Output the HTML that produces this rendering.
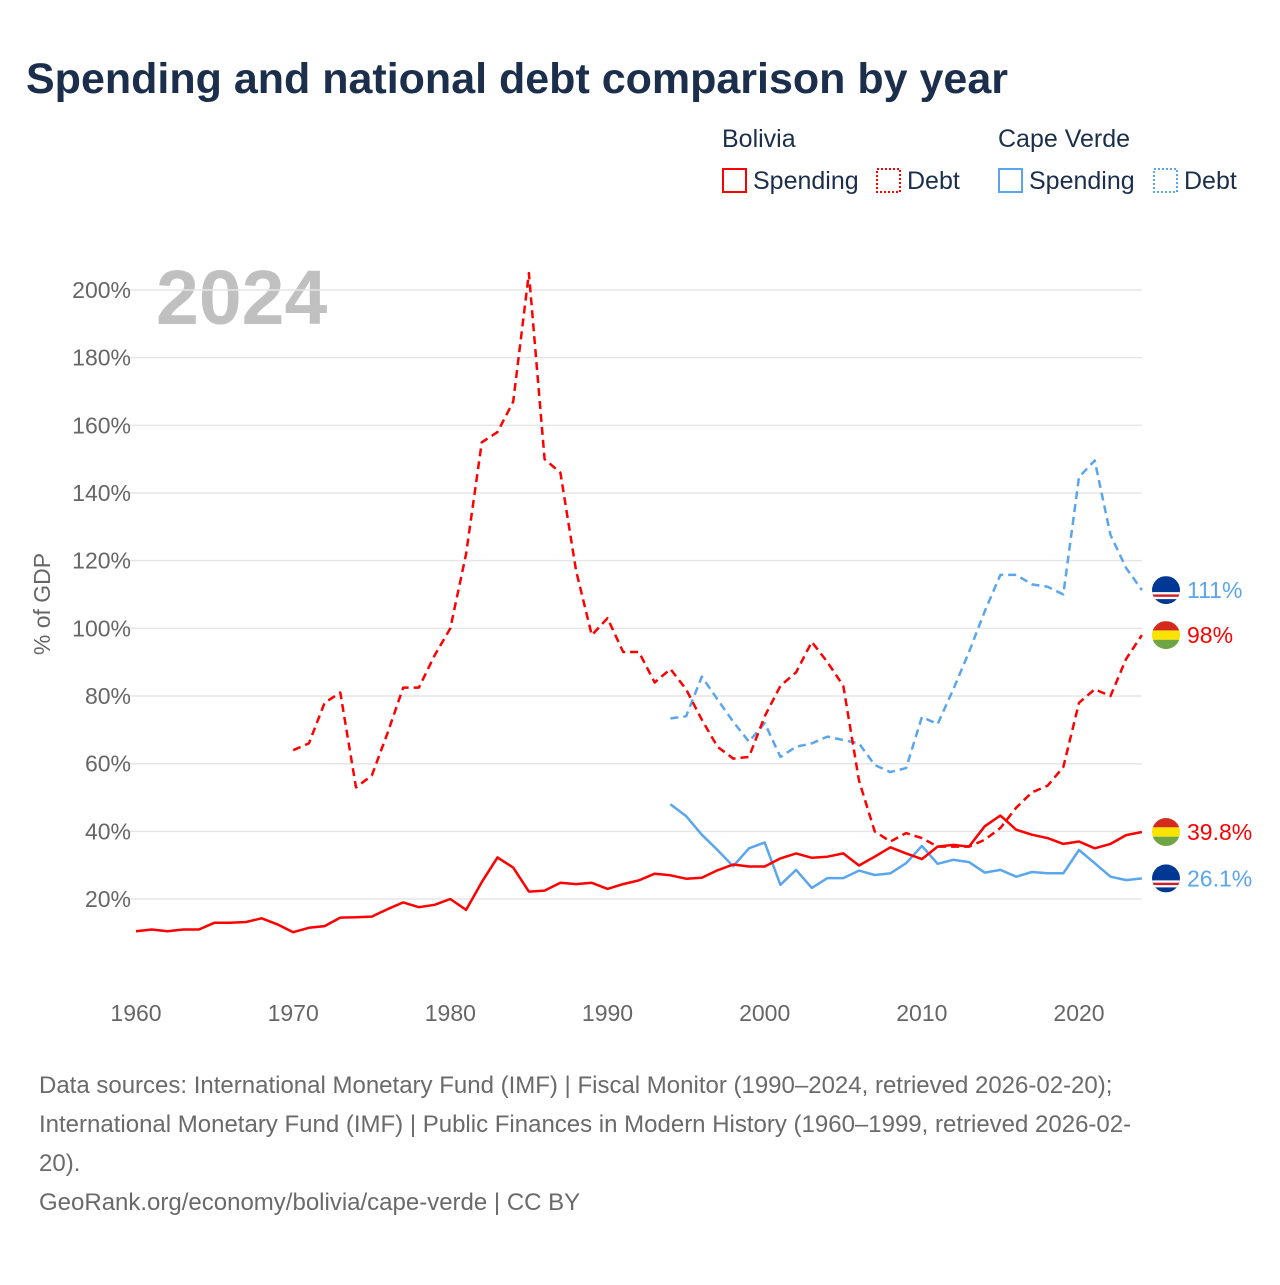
<!DOCTYPE html>
<html><head><meta charset="utf-8">
<style>
body{margin:0;background:#fff;width:1280px;height:1280px;overflow:hidden;font-family:"Liberation Sans",sans-serif;}
</style></head>
<body>
<svg id="chart" width="1280" height="1280" xmlns="http://www.w3.org/2000/svg" font-family="Liberation Sans, sans-serif">
<text x="26" y="93" font-size="43" font-weight="bold" fill="#1b2f4c">Spending and national debt comparison by year</text>
<g font-size="25" fill="#1b2f4c">
<text x="722" y="147">Bolivia</text>
<text x="998" y="147">Cape Verde</text>
<g><rect x="723" y="169" width="23" height="23" fill="none" stroke="#f00" stroke-width="2"/><text x="753" y="189">Spending</text></g>
<g><rect x="877" y="169" width="23" height="23" fill="none" stroke="#f00" stroke-width="2" stroke-dasharray="2,2"/><text x="907" y="189">Debt</text></g>
<g><rect x="999" y="169" width="23" height="23" fill="none" stroke="#5aa6ee" stroke-width="2"/><text x="1029" y="189">Spending</text></g>
<g><rect x="1154" y="169" width="23" height="23" fill="none" stroke="#5aa6ee" stroke-width="2" stroke-dasharray="2,2"/><text x="1184" y="189">Debt</text></g>
</g>
<text x="156" y="324" font-size="77" font-weight="bold" fill="#c0c0c0">2024</text>
<text transform="translate(50,604) rotate(-90)" text-anchor="middle" font-size="23" fill="#666">% of GDP</text>
<g id="grid"></g><g id="yt"></g><g id="xt"></g><g id="series"></g><g id="labels"></g>
<g font-size="24" fill="#6a6a6a">
<text x="39" y="1093">Data sources: International Monetary Fund (IMF) | Fiscal Monitor (1990–2024, retrieved 2026-02-20);</text>
<text x="39" y="1132">International Monetary Fund (IMF) | Public Finances in Modern History (1960–1999, retrieved 2026-02-</text>
<text x="39" y="1171">20).</text>
<text x="39" y="1210">GeoRank.org/economy/bolivia/cape-verde | CC BY</text>
</g>
</svg>
<script>
const yTicks=[20,40,60,80,100,120,140,160,180,200];
const xTicks=[1960,1970,1980,1990,2000,2010,2020];
const bolSpendStart=1960;
const bolSpend=[10.5,11,10.5,11,11,13,13,13.2,14.3,12.5,10.2,11.5,12,14.5,14.6,14.8,17,19,17.6,18.3,20,16.8,25,32.3,29.3,22.2,22.5,24.8,24.4,24.8,23,24.4,25.5,27.5,27,26,26.3,28.5,30.2,29.6,29.6,32,33.5,32.2,32.5,33.5,29.9,32.5,35.3,33.5,31.8,35.5,36,35.5,41.5,44.7,40.5,39,38,36.3,37,35,36.3,38.9,39.8];
const bolDebtStart=1970;
const bolDebt=[64,66,78,81,53,56.5,69,82.5,82.5,92,100,122,155,158,167,205,150,146,117,98,103,93,93,84,88,82,73,65,61.5,62,74,83,87,96,90,83,55,40,37,39.5,38,35.5,35.5,35.5,37.5,41,47,51.5,53.5,59,78,82,80,91,98];
const cvSpendStart=1994;
const cvSpend=[48,44.5,39,34.5,29.7,35,36.7,24.2,28.6,23.3,26.2,26.2,28.4,27.1,27.6,30.6,35.7,30.4,31.6,30.9,27.8,28.6,26.6,28,27.6,27.6,34.5,30.6,26.6,25.6,26.1];
const cvDebtStart=1994;
const cvDebt=[73.4,74,85.7,79,72.4,66.5,72,62,65,66,68,67,66,59.6,57.5,58.7,73.8,71.7,82,93,105,115.8,115.8,113,112.3,110,144.7,149.6,127.6,117.8,111.3];
const endLabels=["111%","98%","39.8%","26.1%"];

const NS="http://www.w3.org/2000/svg";
const X=yr=>136+(yr-1960)*15.717;
const Y=v=>966.7-v*3.3835;
function mk(tag,attrs,parent){const e=document.createElementNS(NS,tag);for(const k in attrs)e.setAttribute(k,attrs[k]);parent.appendChild(e);return e;}
const grid=document.getElementById('grid'),yt=document.getElementById('yt'),xt=document.getElementById('xt'),ser=document.getElementById('series'),lab=document.getElementById('labels');
yTicks.forEach(v=>{
 const l=mk('line',{x1:127,x2:1142,y1:Y(v),y2:Y(v),stroke:'#e6e6e6','stroke-width':1.5},grid);
 
 
 const t=mk('text',{x:131,y:Y(v)+8,'text-anchor':'end','font-size':23,fill:'#666'},yt);
 t.textContent=v+'%';
 
 
});
xTicks.forEach(yr=>{
 const t=mk('text',{x:X(yr),y:1021,'text-anchor':'middle','font-size':23,fill:'#666'},xt);
 t.textContent=yr;
 
 
});
function line(arr,start,color,dash,name){
 const pts=arr.map((v,i)=>X(start+i).toFixed(1)+','+Y(v).toFixed(1)).join(' ');
 const p=mk('polyline',{points:pts,fill:'none',stroke:color,'stroke-width':2.5,'stroke-linejoin':'round'},ser);
 if(dash)p.setAttribute('stroke-dasharray','8,5');
 
 
}
line(cvDebt,cvDebtStart,'#5aa6ee',true,'cape-verde-debt-line');
line(cvSpend,cvSpendStart,'#5aa6ee',false,'cape-verde-spending-line');
line(bolDebt,bolDebtStart,'#f00',true,'bolivia-debt-line');
line(bolSpend,bolSpendStart,'#f00',false,'bolivia-spending-line');
function flag(cy,kind,name){
 const g=mk('g',{},lab);
 
 
 const cx=1166,r=14;
 const id='c'+Math.round(cy);
 const cp=mk('clipPath',{id:id},g);mk('circle',{cx:cx,cy:cy,r:r},cp);
 const h=mk('g',{'clip-path':'url(#'+id+')'},g);
 if(kind==='bo'){
  mk('rect',{x:cx-r,y:cy-r,width:2*r,height:2*r/3,fill:'#d52b1e'},h);
  mk('rect',{x:cx-r,y:cy-r/3,width:2*r,height:2*r/3,fill:'#f9e300'},h);
  mk('rect',{x:cx-r,y:cy+r/3,width:2*r,height:2*r/3,fill:'#6fa544'},h);
 }else{
  mk('rect',{x:cx-r,y:cy-r,width:2*r,height:2*r,fill:'#003893'},h);
  mk('rect',{x:cx-r,y:cy+2,width:2*r,height:7,fill:'#fff'},h);
  mk('rect',{x:cx-r,y:cy+4.3,width:2*r,height:2.4,fill:'#cf2027'},h);
 }
}
const lastVals=[cvDebt[cvDebt.length-1],bolDebt[bolDebt.length-1],bolSpend[bolSpend.length-1],cvSpend[cvSpend.length-1]];
const kinds=['cv','bo','bo','cv'],cols=['#5aa6ee','#f00','#f00','#5aa6ee'];
lastVals.forEach((v,i)=>{
 const cy=Y(v);
 flag(cy,kinds[i],'end-flag-'+i);
 const t=mk('text',{x:1187,y:cy+8,'font-size':23,fill:cols[i]},lab);
 t.textContent=endLabels[i];
 
 
});
</script>
</body></html>
